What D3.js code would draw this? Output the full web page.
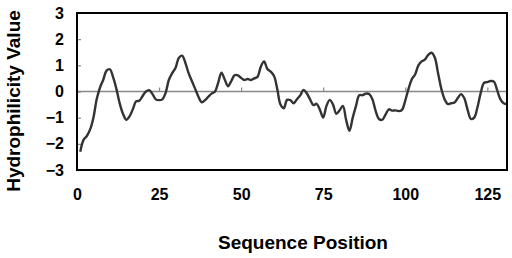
<!DOCTYPE html>
<html><head><meta charset="utf-8">
<script src="https://cdn.jsdelivr.net/npm/d3@7"></script>
<style>body{margin:0;background:#fff}svg{display:block}text{font-family:"Liberation Sans",Arial,sans-serif;font-weight:bold}</style>
</head><body><svg id="c" width="512" height="258"></svg>
<script>
const positions = d3.range(1, 132);
const hydrophilicity = [
-2.3,-1.85,-1.7,-1.45,-1.0,-0.3,0.15,0.45,0.8,0.85,
0.55,0.1,-0.45,-0.85,-1.08,-0.95,-0.68,-0.38,-0.35,-0.17,
0.0,0.05,-0.1,-0.3,-0.33,-0.3,-0.05,0.45,0.7,0.9,
1.28,1.37,1.1,0.7,0.4,0.1,-0.2,-0.41,-0.33,-0.2,
-0.08,-0.01,0.33,0.72,0.46,0.2,0.4,0.62,0.62,0.52,
0.44,0.48,0.44,0.5,0.56,0.95,1.15,0.86,0.76,0.6,
0.1,-0.5,-0.64,-0.32,-0.33,-0.45,-0.3,-0.15,0.06,-0.07,
-0.3,-0.52,-0.47,-0.7,-1.0,-0.55,-0.32,-0.5,-0.85,-0.72,
-0.55,-1.09,-1.5,-1.0,-0.55,-0.14,-0.14,-0.08,-0.1,-0.3,
-0.75,-1.05,-1.08,-0.88,-0.68,-0.73,-0.72,-0.75,-0.7,-0.35,
0.1,0.47,0.65,1.0,1.15,1.22,1.4,1.48,1.3,0.7,
0.1,-0.3,-0.48,-0.45,-0.42,-0.25,-0.1,-0.26,-0.7,-1.05,
-1.0,-0.6,-0.05,0.33,0.36,0.4,0.38,0.05,-0.3,-0.45,-0.48];
const xTicks = [0, 25, 50, 75, 100, 125];
const yTicks = [-3, -2, -1, 0, 1, 2, 3];

const svg = d3.select("#c");
const L = 77, R = 507, T = 13, B = 170;
const x = d3.scaleLinear().domain([0, 131]).range([L, R]);
const y = d3.scaleLinear().domain([-3, 3]).range([B, T]);
const fnt = '"Liberation Sans",Arial,sans-serif';

// zero line
svg.append("line").attr("x1", L).attr("x2", R).attr("y1", y(0)).attr("y2", y(0))
  .attr("stroke", "#888").attr("stroke-width", 1.5);

// inner ticks on zero line
const xa = svg.append("g").attr("transform", `translate(0,${y(0)})`)
  .call(d3.axisTop(x).tickValues(xTicks).tickSize(4).tickFormat(""));
xa.select(".domain").remove();
xa.selectAll("line").attr("stroke", "#888").attr("stroke-width", 1.2);

// x tick labels
svg.append("g").attr("transform", `translate(0,${B})`)
  .call(d3.axisBottom(x).tickValues(xTicks).tickSize(0).tickPadding(19).tickFormat(d3.format("d")))
  .call(g => g.select(".domain").remove())
  .selectAll("text").attr("font-size", 16).attr("fill", "#000")
  .style("font-family", fnt).style("font-weight", "bold");

// y axis
const ya = svg.append("g").attr("transform", `translate(${L},0)`)
  .call(d3.axisRight(y).tickValues(yTicks).tickSize(4).tickFormat(""));
ya.select(".domain").remove();
ya.selectAll("line").attr("stroke", "#888").attr("stroke-width", 1.2);
svg.append("g").attr("transform", `translate(${L},0)`)
  .call(d3.axisLeft(y).tickValues(yTicks).tickSize(0).tickPadding(13).tickFormat(d3.format("d")))
  .call(g => g.select(".domain").remove())
  .selectAll("text").attr("font-size", 16).attr("fill", "#000")
  .style("font-family", fnt).style("font-weight", "bold");

// line
const line = d3.line().x((d, i) => x(positions[i])).y(d => y(d)).curve(d3.curveCatmullRom);
svg.append("path").datum(hydrophilicity).attr("d", line)
  .attr("fill", "none").attr("stroke", "#333").attr("stroke-width", 2.4).attr("stroke-linejoin", "round");

// frame
svg.append("rect").attr("x", L).attr("y", T).attr("width", R - L).attr("height", B - T)
  .attr("fill", "none").attr("stroke", "#000").attr("stroke-width", 2);

// titles
svg.append("text").attr("x", 303).attr("y", 249).attr("text-anchor", "middle")
  .attr("font-size", 19).text("Sequence Position");
svg.append("text").attr("transform", "translate(20,101) rotate(-90)").attr("text-anchor", "middle")
  .attr("font-size", 19).text("Hydrophilicity Value");
</script></body></html>
